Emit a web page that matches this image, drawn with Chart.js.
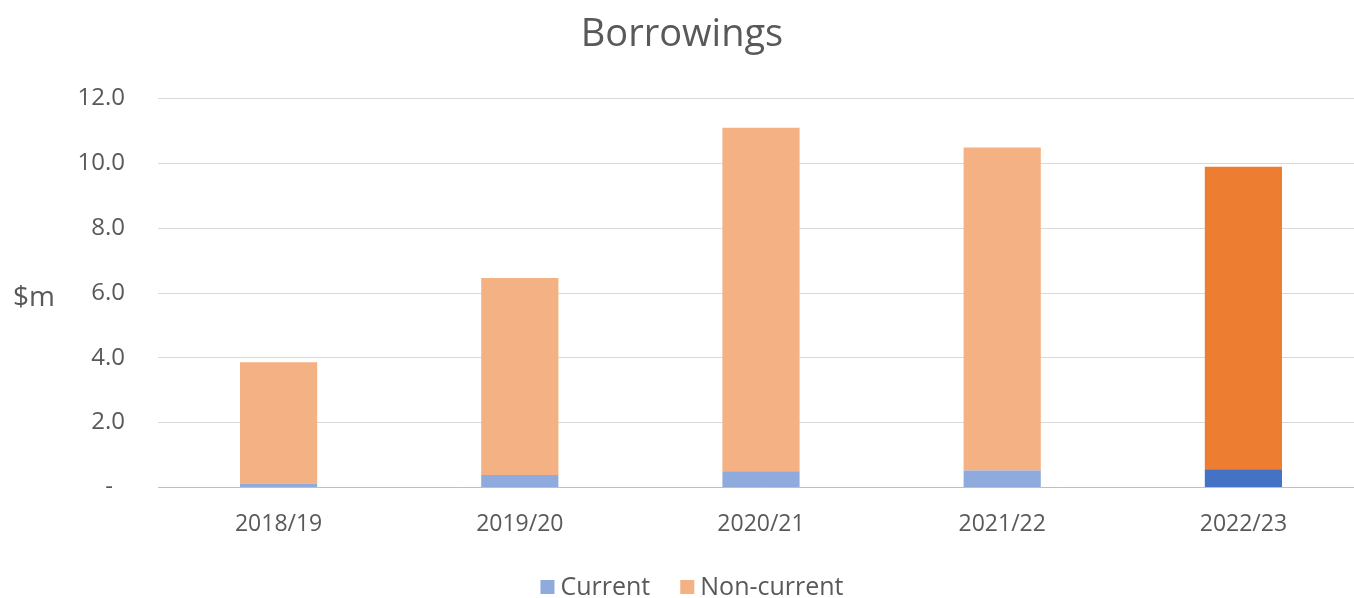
<!DOCTYPE html>
<html>
<head>
<meta charset="utf-8">
<script src="https://cdn.jsdelivr.net/npm/chart.js@4/dist/chart.umd.min.js"></script>
<style>
  html, body { margin: 0; padding: 0; background: #fff; }
  /* el área de trazado se sale un poco por la derecha, como en el original */
  #wrap { width: 1354px; height: 598px; overflow: hidden; }
</style>
</head>
<body>
<div id="wrap"><canvas id="chart" width="1364" height="598"></canvas></div>
<script>
// Datos
const years = ['2018/19', '2019/20', '2020/21', '2021/22', '2022/23'];
const current = [0.12, 0.38, 0.50, 0.52, 0.56];
const nonCurrent = [3.74, 6.08, 10.60, 9.97, 9.34];
const yTicks = [0, 2, 4, 6, 8, 10, 12];

const FONT = '"Open Sans", "Noto Sans", sans-serif';
const TEXT = '#595959';
const LIGHT = ['#8faadc', '#f4b183'];
const DARK = ['#4472c4', '#ed7d31'];

// el último año va en color intenso
function pickColor(i) {
    return function(ctx) {
        return ctx.dataIndex === years.length - 1 ? DARK[i] : LIGHT[i];
    };
}

// etiqueta "$m" horizontal a la izquierda
const unitLabel = {
    id: 'unitLabel',
    afterDraw(chart) {
        const c = chart.ctx;
        const area = chart.chartArea;
        c.save();
        c.font = '28px ' + FONT;
        c.fillStyle = TEXT;
        c.textAlign = 'left';
        c.textBaseline = 'middle';
        c.fillText('$m', 13, (area.top + area.bottom) / 2 + 5);
        c.restore();
    }
};

// leyenda dibujada a mano para controlar la posición
const bottomLegend = {
    id: 'bottomLegend',
    afterDraw(chart) {
        const c = chart.ctx;
        const box = 14, gap = 6, spacing = 30, y = 587;
        c.save();
        c.font = '25px ' + FONT;
        const items = chart.data.datasets.map((ds, i) => ({
            text: ds.label, color: LIGHT[i], w: c.measureText(ds.label).width
        }));
        let total = items.reduce((s, it) => s + box + gap + it.w, 0) + spacing * (items.length - 1);
        let x = chart.width / 2 + 10 - total / 2;
        c.textBaseline = 'middle';
        c.textAlign = 'left';
        items.forEach(it => {
            c.fillStyle = it.color;
            c.fillRect(x, y - box / 2, box, box);
            x += box + gap;
            c.fillStyle = TEXT;
            c.fillText(it.text, x, y + 1);
            x += it.w + spacing;
        });
        c.restore();
    }
};

new Chart(document.getElementById('chart').getContext('2d'), {
    type: 'bar',
    data: {
        labels: years,
        datasets: [{
            label: 'Current',
            data: current,
            backgroundColor: pickColor(0),
            borderWidth: 0
        }, {
            label: 'Non-current',
            data: nonCurrent,
            backgroundColor: pickColor(1),
            borderWidth: 0
        }]
    },
    options: {
        responsive: false,
        animation: false,
        layout: { padding: { left: 0, right: 0, top: 0, bottom: 37 } },
        datasets: {
            bar: { categoryPercentage: 1, barPercentage: 0.32 }
        },
        plugins: {
            title: {
                display: true,
                text: 'Borrowings',
                color: TEXT,
                font: { family: FONT, size: 38, weight: 'normal' },
                padding: { top: 12, bottom: 41 }
            },
            legend: { display: false },
            tooltip: { enabled: false }
        },
        scales: {
            x: {
                stacked: true,
                grid: { display: false, drawTicks: false },
                border: { color: '#bfbfbf', width: 1 },
                ticks: { color: TEXT, font: { family: FONT, size: 23 }, padding: 23 }
            },
            y: {
                stacked: true,
                min: 0,
                max: 12,
                afterBuildTicks(scale) {
                    scale.ticks = yTicks.map(v => ({ value: v }));
                },
                afterFit(scale) { scale.width = 158; },
                grid: { color: '#d9d9d9', drawTicks: false },
                border: { display: false },
                ticks: {
                    color: TEXT,
                    font: { family: FONT, size: 24 },
                    padding: 33,
                    // formato contable: el cero sale como guion
                    callback: v => v === 0 ? '-\u2002' : v.toFixed(1)
                }
            }
        }
    },
    plugins: [unitLabel, bottomLegend]
});
</script>
</body>
</html>
